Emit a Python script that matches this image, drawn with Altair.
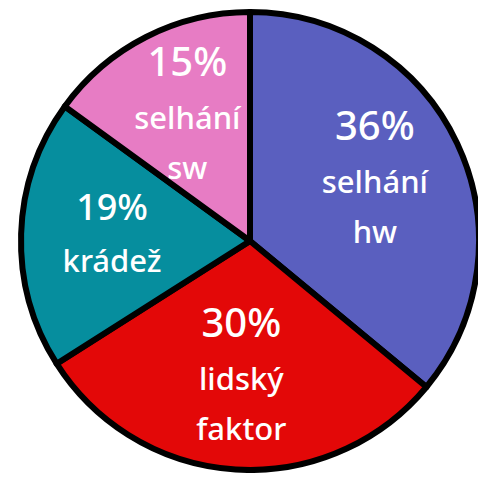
import altair as alt
import pandas as pd

categories = ["selhání hw", "lidský faktor", "krádež", "selhání sw"]
values = [36, 30, 19, 15]
percents = ["36%", "30%", "19%", "15%"]
names = ["selhání\nhw", "lidský\nfaktor", "krádež", "selhání\nsw"]
colors = ["#5A5FBF", "#E30808", "#068E9E", "#E77CC4"]

df = pd.DataFrame({"kategorie": categories, "hodnota": values, "procento": percents,
                   "nazev": names, "poradi": list(range(len(values)))})

short = [c for c, n in zip(categories, names) if "\n" not in n]
long_ = [c for c in categories if c not in short]

total = sum(values)

arcs = alt.Chart(df).mark_arc(outerRadius=229, stroke="black", strokeWidth=6, strokeJoin="round").encode(
    theta=alt.Theta("hodnota:Q", stack=True),
    order=alt.Order("poradi:Q"),
    color=alt.Color("kategorie:N", scale=alt.Scale(domain=categories, range=colors), legend=None),
    x=alt.value(242),
    y=alt.value(233),
)

tbase = alt.Chart(df).transform_window(
    cum="sum(hodnota)", sort=[alt.SortField("poradi")]
).transform_calculate(
    mid=f"datum.cum - datum.hodnota / 2"
).encode(
    theta=alt.Theta("mid:Q", scale=alt.Scale(domain=[0, total])),
    x=alt.value(242),
    y=alt.value(233),
)

tstyle = dict(radius=138, color="white", font="Noto Sans", fontWeight=500,
              baseline="middle", align="center", lineBreak="\n", lineHeight=50)

def layer(field, size, dy, cats):
    return tbase.transform_filter(alt.FieldOneOfPredicate(field="kategorie", oneOf=cats)).mark_text(
        fontSize=size, dy=dy, **tstyle).encode(text=f"{field}:N")

texts = [
    layer("procento", 40, -54, long_),
    layer("nazev", 31, 2, long_),
    layer("procento", 36, -28, short),
    layer("nazev", 31, 26, short),
]

chart = alt.layer(arcs, *texts).resolve_scale(theta="independent").properties(
    width=470, height=465, padding=0, autosize=alt.AutoSizeParams(type="none")
).configure_view(stroke=None)

chart.save("out.html", embed_options={"renderer": "svg", "actions": False})
